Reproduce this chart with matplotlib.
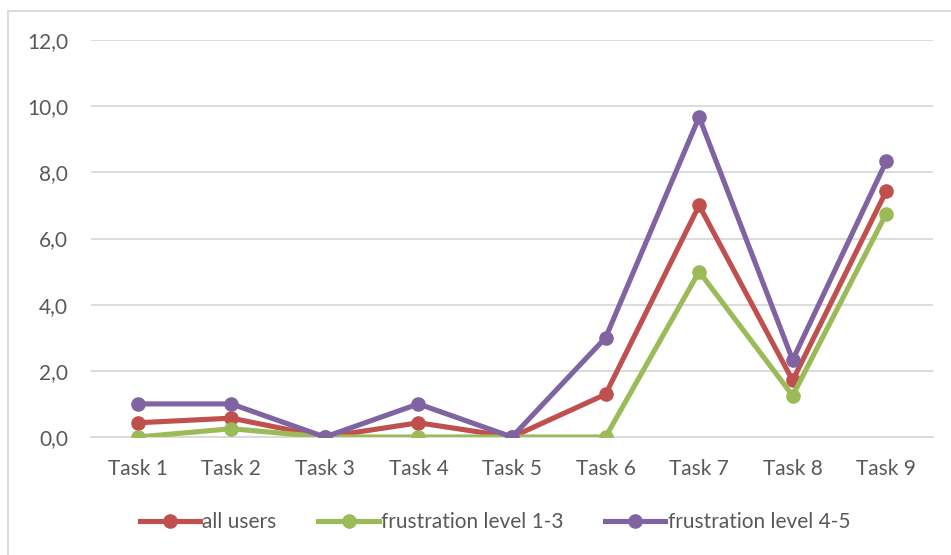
import matplotlib.pyplot as plt
from matplotlib.lines import Line2D
from matplotlib.ticker import FuncFormatter

tasks = ['Task 1', 'Task 2', 'Task 3', 'Task 4', 'Task 5', 'Task 6', 'Task 7', 'Task 8', 'Task 9']
all_users = [0.43, 0.57, 0.0, 0.43, 0.0, 1.29, 7.0, 1.71, 7.43]
frustration_1_3 = [0.0, 0.25, 0.0, 0.0, 0.0, 0.0, 5.0, 1.25, 6.75]
frustration_4_5 = [1.0, 1.0, 0.0, 1.0, 0.0, 3.0, 9.67, 2.33, 8.33]

series = [
    ('all users', all_users, '#C0504D'),
    ('frustration level 1-3', frustration_1_3, '#9BBB59'),
    ('frustration level 4-5', frustration_4_5, '#8064A2'),
]

plt.rcParams['font.family'] = ['Lato', 'DejaVu Sans']
text_color = '#595959'
grid_color = '#D9D9D9'

fig = plt.figure(figsize=(9.51, 5.55), dpi=100)
ax = fig.add_axes([91 / 951, 118 / 555, 842 / 951, 397 / 555])

x = range(len(tasks))
for label, values, color in series:
    ax.plot(x, values, color=color, linewidth=3.7, marker='o', markersize=9.5,
            label=label, solid_joinstyle='round', zorder=3)

ax.set_xlim(-0.5, len(tasks) - 0.5)
ax.set_ylim(0, 12)
ax.set_yticks(range(0, 13, 2))
ax.yaxis.set_major_formatter(FuncFormatter(lambda v, p: f'{v:.1f}'.replace('.', ',')))
ax.set_xticks(list(x))
ax.set_xticklabels(tasks)
ax.tick_params(axis='both', length=0, labelsize=15, labelcolor=text_color)
ax.tick_params(axis='y', pad=16.5)
ax.tick_params(axis='x', pad=16)
ax.grid(axis='y', color=grid_color, linewidth=1.3)
ax.set_axisbelow(True)
for side in ['top', 'right', 'left']:
    ax.spines[side].set_visible(False)
ax.spines['bottom'].set_color(grid_color)
ax.spines['bottom'].set_linewidth(1.3)

ax.legend(loc='center', bbox_to_anchor=((495 - 91) / 842, -(522 - 437) / 397),
          ncol=3, frameon=False, fontsize=15, labelcolor=text_color,
          handlelength=2.9, handletextpad=0.1, columnspacing=2.0)

# chart area border (top and left edges)
fig.add_artist(Line2D([8 / 951, 1], [1 - 11 / 555, 1 - 11 / 555], color=grid_color, linewidth=1.3,
                      transform=fig.transFigure))
fig.add_artist(Line2D([8 / 951, 8 / 951], [0, 1 - 11 / 555], color=grid_color, linewidth=1.3,
                      transform=fig.transFigure))

fig.savefig('out.png', dpi=100)
